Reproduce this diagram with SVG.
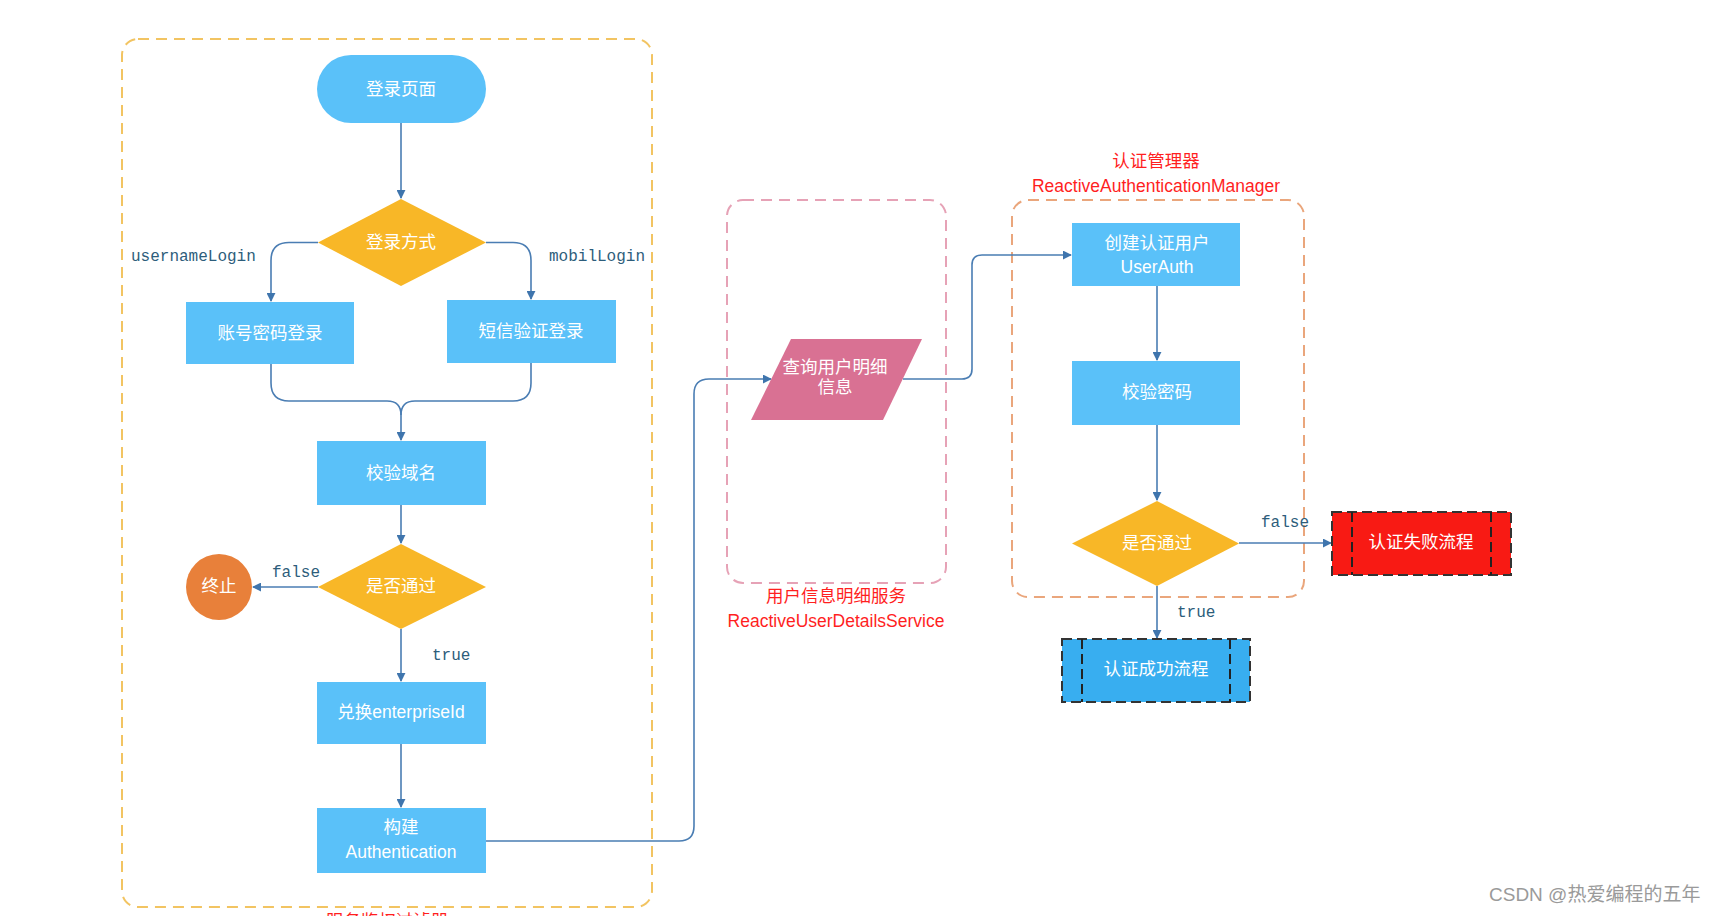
<svg xmlns="http://www.w3.org/2000/svg" width="1715" height="916" viewBox="0 0 1715 916">
<style>
.node{fill:#5ac1f9}
.dia{fill:#f8b727}
.nt{font-family:"Liberation Sans","Noto Sans CJK SC",sans-serif;font-size:17.5px;fill:#ffffff;text-anchor:middle;dominant-baseline:central}
.lbl{font-family:"Liberation Mono","Noto Sans CJK SC",monospace;font-size:16px;fill:#2d5d7b}
.red{font-family:"Liberation Sans","Noto Sans CJK SC",sans-serif;font-size:17.5px;fill:#ff1f1f;text-anchor:middle;dominant-baseline:central}
.con{fill:none;stroke:#4a7db3;stroke-width:1.6}
.grp{fill:none;stroke-width:2;stroke-dasharray:11 7}
.sub{stroke:#333;stroke-width:2;stroke-dasharray:10 5}
.subl{stroke:#222;stroke-width:2;stroke-dasharray:10 5}
</style>
<defs>
<marker id="arr" viewBox="0 0 10 10" refX="9" refY="5" markerWidth="9" markerHeight="9" markerUnits="userSpaceOnUse" orient="auto">
<path d="M0,0 L10,5 L0,10 z" fill="#3f75ad"/>
</marker>
</defs>
<rect width="1715" height="916" fill="#ffffff"/>

<g id="group-gateway">
<rect class="grp" x="122" y="39" width="530" height="868" rx="16" stroke="#f2c462"/>
<text class="red" x="387" y="921">服务鉴权过滤器</text>
</g>
<g id="group-userdetails">
<rect class="grp" x="727" y="200" width="219" height="383" rx="16" stroke="#e6a2b6"/>
<text class="red" x="836" y="596">用户信息明细服务</text>
<text class="red" x="836" y="621">ReactiveUserDetailsService</text>
</g>
<g id="group-authmanager">
<rect class="grp" x="1012" y="200" width="292" height="397" rx="16" stroke="#eaa67c"/>
<text class="red" x="1156" y="161">认证管理器</text>
<text class="red" x="1156" y="186">ReactiveAuthenticationManager</text>
</g>

<g id="connectors">
<path class="con" d="M401,123 V198" marker-end="url(#arr)"/>
<path class="con" d="M318,242.5 H289 Q271,242.5 271,260.5 V301" marker-end="url(#arr)"/>
<path class="con" d="M486,242.5 H513 Q531,242.5 531,260.5 V299" marker-end="url(#arr)"/>
<path class="con" d="M271,364 V383 Q271,401 289,401 H387 Q401,401 401,415 V440" marker-end="url(#arr)"/>
<path class="con" d="M531,363 V383 Q531,401 513,401 H415 Q401,401 401,415"/>
<path class="con" d="M401,505 V543" marker-end="url(#arr)"/>
<path class="con" d="M318,587 H253" marker-end="url(#arr)"/>
<path class="con" d="M401,629 V681" marker-end="url(#arr)"/>
<path class="con" d="M401,744 V807" marker-end="url(#arr)"/>
<path class="con" d="M486,841 H679 Q694,841 694,826 V394 Q694,379 709,379 H771" marker-end="url(#arr)"/>
<path class="con" d="M903,379 H962 Q972,379 972,369 V265 Q972,255 982,255 H1071" marker-end="url(#arr)"/>
<path class="con" d="M1157,286 V360" marker-end="url(#arr)"/>
<path class="con" d="M1157,425 V500" marker-end="url(#arr)"/>
<path class="con" d="M1239,543 H1331" marker-end="url(#arr)"/>
<path class="con" d="M1157,586 V638" marker-end="url(#arr)"/>
<text class="lbl" x="131" y="261">usernameLogin</text>
<text class="lbl" x="549" y="261">mobilLogin</text>
<text class="lbl" x="272" y="577">false</text>
<text class="lbl" x="432" y="660">true</text>
<text class="lbl" x="1261" y="527">false</text>
<text class="lbl" x="1177" y="617">true</text>
</g>

<g id="n-login-page">
<rect class="node" x="317" y="55" width="169" height="68" rx="34"/>
<text class="nt" x="401" y="89">登录页面</text>
</g>
<g id="n-login-type">
<polygon class="dia" points="401,199 486,242.5 401,286 318,242.5"/>
<text class="nt" x="401" y="242">登录方式</text>
</g>
<g id="n-account-login">
<rect class="node" x="186" y="302" width="168" height="62"/>
<text class="nt" x="270" y="333">账号密码登录</text>
</g>
<g id="n-sms-login">
<rect class="node" x="447" y="300" width="169" height="63"/>
<text class="nt" x="531" y="331">短信验证登录</text>
</g>
<g id="n-check-domain">
<rect class="node" x="317" y="441" width="169" height="64"/>
<text class="nt" x="401" y="473">校验域名</text>
</g>
<g id="n-pass-1">
<polygon class="dia" points="401,544 486,587 401,629 318,587"/>
<text class="nt" x="401" y="586">是否通过</text>
</g>
<g id="n-stop">
<circle cx="219" cy="587" r="33" fill="#e8803a"/>
<text class="nt" x="219" y="586">终止</text>
</g>
<g id="n-exchange">
<rect class="node" x="317" y="682" width="169" height="62"/>
<text class="nt" x="401" y="712">兑换enterpriseId</text>
</g>
<g id="n-build-auth">
<rect class="node" x="317" y="808" width="169" height="65"/>
<text class="nt" x="401" y="827">构建</text>
<text class="nt" x="401" y="852">Authentication</text>
</g>
<g id="n-query-user">
<polygon points="791,339 922,339 883,420 751,420" fill="#d97193"/>
<text class="nt" x="835" y="367">查询用户明细</text>
<text class="nt" x="835" y="387">信息</text>
</g>
<g id="n-create-user">
<rect class="node" x="1072" y="223" width="168" height="63"/>
<text class="nt" x="1157" y="243">创建认证用户</text>
<text class="nt" x="1157" y="267">UserAuth</text>
</g>
<g id="n-check-pwd">
<rect class="node" x="1072" y="361" width="168" height="64"/>
<text class="nt" x="1157" y="392">校验密码</text>
</g>
<g id="n-pass-2">
<polygon class="dia" points="1157,501 1239,543.5 1157,586 1072,543.5"/>
<text class="nt" x="1157" y="543">是否通过</text>
</g>
<g id="n-fail">
<rect class="sub" x="1332" y="512" width="179" height="63" fill="#f81a14"/>
<line class="subl" x1="1352" y1="512" x2="1352" y2="575"/>
<line class="subl" x1="1491" y1="512" x2="1491" y2="575"/>
<text class="nt" x="1421" y="542">认证失败流程</text>
</g>
<g id="n-success">
<rect class="sub" x="1062" y="639" width="188" height="63" fill="#38aef0"/>
<line class="subl" x1="1082" y1="639" x2="1082" y2="702"/>
<line class="subl" x1="1230" y1="639" x2="1230" y2="702"/>
<text class="nt" x="1156" y="669">认证成功流程</text>
</g>
<text x="1489" y="901" font-family="'Liberation Sans','Noto Sans CJK SC',sans-serif" font-size="19px" fill="#9a9a9a">CSDN @热爱编程的五年</text>
</svg>
